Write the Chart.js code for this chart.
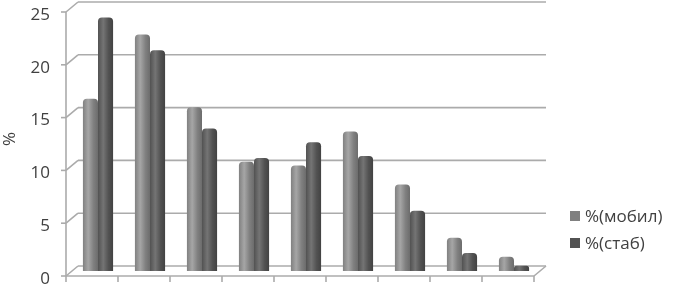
<!DOCTYPE html>
<html><head><meta charset="utf-8">
<script src="https://cdn.jsdelivr.net/npm/chart.js@4/dist/chart.umd.min.js"></script>
<style>
html,body{margin:0;padding:0;background:#fff;}
#wrap{position:relative;width:675px;height:287px;}
#legend{position:absolute;left:570px;top:202px;font-family:'Open Sans',sans-serif;font-size:17px;color:#404040;}
#legend .it{display:flex;align-items:center;height:27px;}
#legend .sw{width:10px;height:10px;margin-right:5px;}
</style></head>
<body><div id="wrap"><canvas id="c" width="675" height="287"></canvas><div id="legend"></div></div>
<script>
const categories = ['1','2','3','4','5','6','7','8','9'];
const seriesNames = ['%(мобил)', '%(стаб)'];
const mobil = [16.3, 22.4, 15.5, 10.35, 10.0, 13.2, 8.2, 3.15, 1.35];
const stab  = [24.0, 20.9, 13.5, 10.7, 12.2, 10.9, 5.7, 1.7, 0.5];
const yTicks = [0, 5, 10, 15, 20, 25];
const colors = [['#808080','#a6a6a6','#6c6c6c'], ['#525252','#747474','#424242']];

const DX = 6, DY = 5;
function barFill(ctx){
  const chart = ctx.chart, x = chart.scales.x;
  const c = colors[ctx.datasetIndex];
  if (!chart.chartArea || !x) return c[0];
  const w = x.getPixelForValue(1) - x.getPixelForValue(0);
  const bw = w * 0.58 / 2;
  const cx = x.getPixelForValue(ctx.dataIndex) + (ctx.datasetIndex === 0 ? -bw/2 : bw/2);
  const g = chart.ctx.createLinearGradient(cx - bw/2, 0, cx + bw/2, 0);
  g.addColorStop(0, c[0]); g.addColorStop(0.35, c[1]); g.addColorStop(0.7, c[0]); g.addColorStop(1, c[2]);
  return g;
}
const frame = {
  id: 'frame',
  beforeDatasetsDraw(chart){
    const {ctx, chartArea:a, scales:{x, y}} = chart;
    ctx.save();
    ctx.strokeStyle = '#ababab'; ctx.lineWidth = 1.6;
    const line = (x1,y1,x2,y2)=>{ctx.beginPath();ctx.moveTo(x1,y1);ctx.lineTo(x2,y2);ctx.stroke();};
    yTicks.forEach(v=>{
      const py = y.getPixelForValue(v);
      line(a.left+DX, py-DY, a.right+DX, py-DY);
      line(a.left-DX, py+DY, a.left+DX, py-DY);
      line(a.left-DX-5, py+DY, a.left-DX, py+DY);
    });
    const yTop = y.getPixelForValue(yTicks[yTicks.length-1]) + DY;
    const y0 = y.getPixelForValue(0) + DY;
    line(a.left-DX, yTop, a.left-DX, y0);
    line(a.left-DX, y0, a.right-DX, y0);
    line(a.right-DX, y0, a.right+DX, y0-2*DY);
    for (let i = 0; i <= categories.length; i++){
      const px = x.getPixelForValue(i - 0.5) - DX;
      line(px, y0, px, y0+6);
    }
    ctx.restore();
  }
};
new Chart(document.getElementById('c'), {
  type: 'bar',
  data: { labels: categories, datasets: [
    { label: seriesNames[0], data: mobil, backgroundColor: barFill, borderRadius: {topLeft:4, topRight:4}, borderSkipped: 'bottom' },
    { label: seriesNames[1], data: stab, backgroundColor: barFill, borderRadius: {topLeft:4, topRight:4}, borderSkipped: 'bottom' }
  ]},
  options: {
    responsive: false, animation: false,
    layout: { padding: { top: 7, right: 135, bottom: 16, left: 0 } },
    datasets: { bar: { categoryPercentage: 0.58, barPercentage: 1.0 } },
    plugins: { legend: { display: false }, tooltip: { enabled: false } },
    scales: {
      x: { display: false },
      y: {
        min: 0, max: 25,
        afterFit(s){ s.width = 72; s.paddingTop = 0; s.paddingBottom = 0; },
        grid: { display: false }, border: { display: false },
        ticks: { stepSize: 5, padding: 14, labelOffset: 8, color: '#404040', font: { family: 'Open Sans', size: 17 } },
        title: { display: true, text: '%', color: '#404040', padding: 0, font: { family: 'Open Sans', size: 17 } }
      }
    }
  },
  plugins: [frame]
});
const lg = document.getElementById('legend');
seriesNames.forEach((n,i)=>{
  const d = document.createElement('div'); d.className = 'it';
  const s = document.createElement('span'); s.className = 'sw'; s.style.background = colors[i][0];
  const t = document.createElement('span'); t.textContent = n;
  d.appendChild(s); d.appendChild(t); lg.appendChild(d);
});
</script></body></html>
